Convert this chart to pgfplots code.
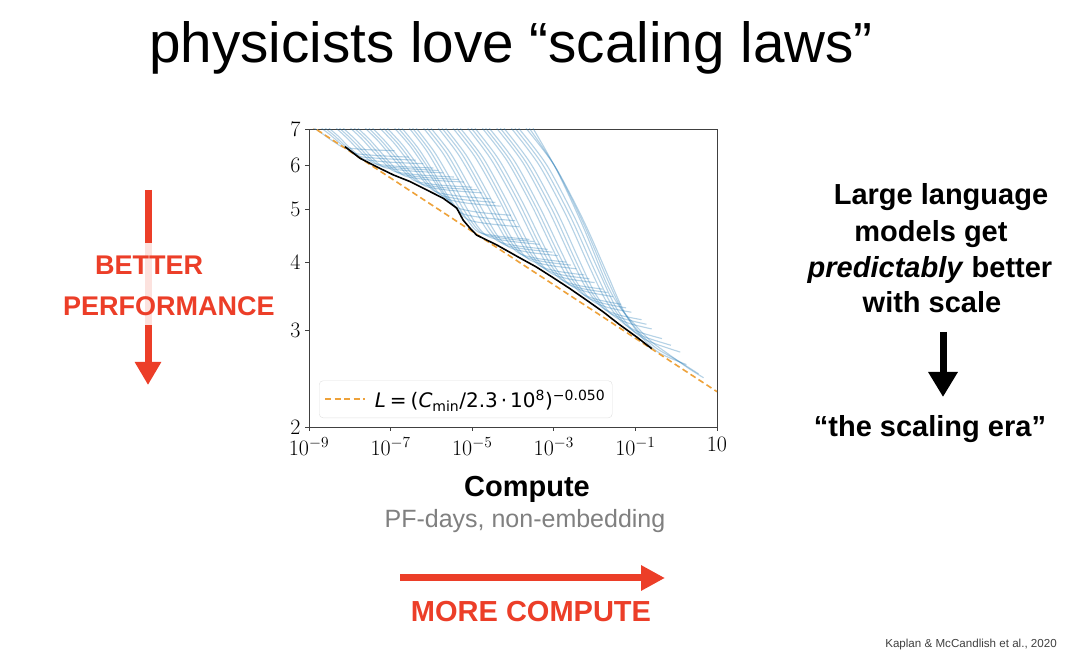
\RequirePackage{fix-cm}
\documentclass[border=0pt]{standalone}
\usepackage{fontspec}
\setmainfont{Liberation Sans}
\newfontfamily\dejavu{DejaVu Sans}
\usepackage{pgfplots}
\pgfplotsset{compat=1.18}
\usetikzlibrary{arrows.meta}

\definecolor{slidered}{RGB}{236,62,40}
\definecolor{c0}{RGB}{31,119,180}
\definecolor{fitorange}{RGB}{238,162,58}

% x values are log10(compute in PF-days)
\pgfplotsset{run/.style={c0, opacity=0.33, line width=1.1pt, smooth, tension=0.5, forget plot}}

\begin{document}
\begin{tikzpicture}
\path[use as bounding box] (0pt,0pt) rectangle (1080pt,654pt);
\fill[white] (0pt,0pt) rectangle (1080pt,654pt);

\begin{axis}[
  at={(309pt,227pt)}, anchor=south west,
  scale only axis, width=408pt, height=298pt,
  xmin=-9, xmax=1,
  ymode=log, ymin=2, ymax=7,
  xtick={-9,-7,-5,-3,-1,1},
  xticklabels={$10^{-9}$,$10^{-7}$,$10^{-5}$,$10^{-3}$,$10^{-1}$,$10$},
  ytick={2,3,4,5,6,7}, yticklabels={$2$,$3$,$4$,$5$,$6$,$7$},
  yminorticks=false,
  tick align=outside, tick pos=left,
  major tick length=4pt,
  tick style={black!75, line width=0.8pt},
  axis line style={black!75, line width=0.9pt},
  ticklabel style={font=\fontsize{22}{22}\selectfont},
  yticklabel style={xshift=-1pt},
  xticklabel style={yshift=-3pt},
  legend style={at={(0.0245,0.03)}, anchor=south west, draw=black!12,
    rounded corners=4pt, fill=white, inner xsep=5pt, inner ysep=7pt,
    font=\dejavu\fontsize{20}{20}\selectfont, cells={anchor=west}},
  legend image code/.code={\draw[#1] (0pt,0pt) -- (40pt,0pt); \path (47pt,0pt);},
]

% learning curves
\addplot[run] coordinates {(-8.87,7.02) (-8.68,6.87) (-8.49,6.71) (-8.33,6.59) (-8.22,6.51) (-8.10,6.47) (-7.62,6.42) (-6.90,6.39)};
\addplot[run] coordinates {(-8.69,7.02) (-8.48,6.83) (-8.27,6.62) (-8.10,6.46) (-7.98,6.37) (-7.85,6.31) (-7.33,6.26) (-6.55,6.22)};
\addplot[run] coordinates {(-8.60,7.02) (-8.38,6.81) (-8.17,6.58) (-7.99,6.40) (-7.86,6.30) (-7.73,6.23) (-7.19,6.18) (-6.38,6.14)};
\addplot[run] coordinates {(-8.51,7.02) (-8.28,6.79) (-8.06,6.53) (-7.87,6.34) (-7.74,6.22) (-7.60,6.15) (-7.04,6.09) (-6.20,6.05)};
\addplot[run] coordinates {(-8.33,7.02) (-8.09,6.76) (-7.84,6.47) (-7.64,6.25) (-7.50,6.12) (-7.35,6.04) (-6.79,5.98) (-5.95,5.94)};
\addplot[run] coordinates {(-8.25,7.02) (-8.00,6.75) (-7.74,6.45) (-7.53,6.21) (-7.38,6.07) (-7.23,5.99) (-6.67,5.93) (-5.83,5.88)};
\addplot[run] coordinates {(-8.16,7.02) (-7.90,6.74) (-7.63,6.42) (-7.42,6.17) (-7.26,6.02) (-7.10,5.94) (-6.54,5.87) (-5.70,5.82)};
\addplot[run] coordinates {(-7.98,7.02) (-7.70,6.71) (-7.42,6.36) (-7.19,6.10) (-7.02,5.93) (-6.85,5.84) (-6.29,5.77) (-5.45,5.72)};
\addplot[run] coordinates {(-7.89,7.02) (-7.60,6.70) (-7.31,6.33) (-7.08,6.06) (-6.90,5.88) (-6.73,5.79) (-6.17,5.71) (-5.33,5.66)};
\addplot[run] coordinates {(-7.80,7.02) (-7.50,6.68) (-7.20,6.30) (-6.96,6.01) (-6.78,5.83) (-6.60,5.73) (-6.04,5.65) (-5.20,5.60)};
\addplot[run] coordinates {(-7.62,7.02) (-7.30,6.65) (-6.99,6.24) (-6.73,5.92) (-6.54,5.72) (-6.35,5.61) (-5.81,5.53) (-5.00,5.48)};
\addplot[run] coordinates {(-7.53,7.02) (-7.21,6.64) (-6.88,6.21) (-6.62,5.87) (-6.42,5.67) (-6.23,5.55) (-5.69,5.47) (-4.88,5.42)};
\addplot[run] coordinates {(-7.44,7.02) (-7.11,6.62) (-6.77,6.17) (-6.50,5.82) (-6.30,5.61) (-6.10,5.49) (-5.56,5.41) (-4.75,5.35)};
\addplot[run] coordinates {(-7.26,7.02) (-6.91,6.59) (-6.56,6.10) (-6.27,5.72) (-6.06,5.49) (-5.85,5.36) (-5.33,5.28) (-4.55,5.22)};
\addplot[run] coordinates {(-7.17,7.02) (-6.81,6.57) (-6.45,6.06) (-6.16,5.66) (-5.94,5.42) (-5.73,5.29) (-5.21,5.20) (-4.43,5.14)};
\addplot[run] coordinates {(-7.08,7.02) (-6.71,6.55) (-6.34,6.02) (-6.04,5.60) (-5.82,5.35) (-5.60,5.21) (-5.08,5.12) (-4.30,5.06)};
\addplot[run] coordinates {(-6.90,7.02) (-6.51,6.50) (-6.13,5.91) (-5.82,5.46) (-5.58,5.18) (-5.35,5.02) (-4.83,4.93) (-4.05,4.87)};
\addplot[run] coordinates {(-6.81,7.02) (-6.42,6.48) (-6.02,5.85) (-5.71,5.37) (-5.46,5.08) (-5.23,4.90) (-4.72,4.82) (-3.95,4.76)};
\addplot[run] coordinates {(-6.72,7.02) (-6.32,6.45) (-5.91,5.78) (-5.59,5.27) (-5.34,4.98) (-5.10,4.78) (-4.60,4.70) (-3.85,4.64)};
\addplot[run] coordinates {(-6.54,7.02) (-6.12,6.39) (-5.70,5.65) (-5.36,5.08) (-5.10,4.76) (-4.85,4.54) (-4.35,4.46) (-3.60,4.40)};
\addplot[run] coordinates {(-6.46,7.02) (-6.03,6.38) (-5.60,5.63) (-5.25,5.05) (-4.99,4.71) (-4.73,4.50) (-4.23,4.42) (-3.48,4.36)};
\addplot[run] coordinates {(-6.37,7.02) (-5.93,6.36) (-5.49,5.60) (-5.13,5.01) (-4.87,4.65) (-4.60,4.45) (-4.10,4.37) (-3.35,4.31)};
\addplot[run] coordinates {(-6.19,7.02) (-5.73,6.34) (-5.27,5.55) (-4.90,4.94) (-4.63,4.57) (-4.35,4.36) (-3.87,4.28) (-3.15,4.22)};
\addplot[run] coordinates {(-6.10,7.02) (-5.63,6.33) (-5.17,5.52) (-4.79,4.90) (-4.51,4.53) (-4.23,4.31) (-3.75,4.23) (-3.03,4.17)};
\addplot[run] coordinates {(-6.01,7.02) (-5.53,6.32) (-5.06,5.49) (-4.67,4.86) (-4.39,4.48) (-4.10,4.26) (-3.62,4.17) (-2.90,4.11)};
\addplot[run] coordinates {(-5.83,7.02) (-5.34,6.29) (-4.84,5.43) (-4.44,4.78) (-4.15,4.38) (-3.85,4.15) (-3.39,4.06) (-2.70,4.00)};
\addplot[run] coordinates {(-5.74,7.02) (-5.24,6.28) (-4.74,5.40) (-4.33,4.74) (-4.03,4.33) (-3.73,4.10) (-3.27,4.01) (-2.58,3.95)};
\addplot[run] coordinates {(-5.65,7.02) (-5.14,6.26) (-4.63,5.37) (-4.22,4.69) (-3.91,4.28) (-3.60,4.04) (-3.14,3.95) (-2.45,3.89)};
\addplot[run] coordinates {(-5.47,7.02) (-4.94,6.24) (-4.41,5.32) (-3.99,4.61) (-3.67,4.18) (-3.35,3.94) (-2.91,3.85) (-2.25,3.79)};
\addplot[run] coordinates {(-5.38,7.02) (-4.84,6.23) (-4.31,5.29) (-3.88,4.57) (-3.55,4.13) (-3.23,3.89) (-2.79,3.79) (-2.13,3.73)};
\addplot[run] coordinates {(-5.29,7.02) (-4.74,6.21) (-4.20,5.26) (-3.76,4.53) (-3.43,4.08) (-3.10,3.83) (-2.66,3.73) (-2.00,3.67)};
\addplot[run] coordinates {(-5.11,7.02) (-4.55,6.18) (-3.98,5.20) (-3.53,4.45) (-3.19,3.99) (-2.85,3.73) (-2.43,3.63) (-1.80,3.57)};
\addplot[run] coordinates {(-5.02,7.02) (-4.45,6.17) (-3.88,5.18) (-3.42,4.41) (-3.07,3.95) (-2.73,3.68) (-2.31,3.58) (-1.68,3.52)};
\addplot[run] coordinates {(-4.93,7.02) (-4.35,6.16) (-3.77,5.15) (-3.30,4.37) (-2.95,3.90) (-2.60,3.63) (-2.18,3.53) (-1.55,3.46)};
\addplot[run] coordinates {(-4.75,7.02) (-4.15,6.13) (-3.55,5.09) (-3.07,4.29) (-2.71,3.80) (-2.35,3.52) (-1.95,3.42) (-1.35,3.35)};
\addplot[run] coordinates {(-4.67,7.02) (-4.06,6.12) (-3.45,5.06) (-2.96,4.25) (-2.59,3.76) (-2.23,3.47) (-1.83,3.37) (-1.23,3.30)};
\addplot[run] coordinates {(-4.58,7.02) (-3.96,6.11) (-3.34,5.03) (-2.84,4.21) (-2.47,3.71) (-2.10,3.42) (-1.70,3.31) (-1.10,3.24)};
\addplot[run] coordinates {(-4.40,7.02) (-3.76,6.08) (-3.13,4.98) (-2.62,4.13) (-2.23,3.61) (-1.85,3.32) (-1.45,3.21) (-0.85,3.14)};
\addplot[run] coordinates {(-4.31,7.02) (-3.67,6.07) (-3.02,4.95) (-2.51,4.09) (-2.12,3.57) (-1.73,3.27) (-1.33,3.16) (-0.73,3.08)};
\addplot[run] coordinates {(-4.22,7.02) (-3.57,6.06) (-2.91,4.92) (-2.39,4.05) (-2.00,3.52) (-1.60,3.22) (-1.20,3.10) (-0.60,3.02)};
\addplot[run] coordinates {(-4.04,7.02) (-3.37,6.03) (-2.70,4.87) (-2.16,3.97) (-1.75,3.43) (-1.35,3.12) (-0.95,2.99) (-0.35,2.90)};
\addplot[run] coordinates {(-3.95,7.02) (-3.27,6.02) (-2.59,4.84) (-2.05,3.94) (-1.63,3.39) (-1.23,3.07) (-0.82,2.93) (-0.13,2.82)};
\addplot[run] coordinates {(-3.86,7.02) (-3.17,6.01) (-2.48,4.81) (-1.93,3.90) (-1.51,3.34) (-1.10,3.02) (-0.68,2.87) (0.10,2.74)};
\addplot[run] coordinates {(-3.68,7.02) (-2.97,5.98) (-2.27,4.76) (-1.70,3.82) (-1.28,3.25) (-0.85,2.92) (-0.41,2.73) (0.25,2.60)};
\addplot[run] coordinates {(-3.60,7.02) (-2.95,5.94) (-2.27,4.70) (-1.70,3.74) (-1.33,3.28) (-0.91,2.98) (-0.50,2.79) (0.05,2.64) (0.55,2.50)};
\addplot[run] coordinates {(-3.51,7.02) (-2.93,5.89) (-2.28,4.64) (-1.71,3.66) (-1.38,3.31) (-0.97,3.05) (-0.60,2.86) (-0.20,2.72) (0.30,2.56) (0.67,2.46)};

% power-law fit
\addplot[fitorange, line width=1.6pt, dash pattern=on 6pt off 3.5pt] coordinates {(-9,7.13) (1,2.32)};
\addlegendentry{\textit{L}\hspace{0.2em}=\hspace{0.2em}(\textit{C}\textsubscript{min}/2.3\hspace{0.15em}·\hspace{0.15em}10\textsuperscript{8})\textsuperscript{−0.050}}

% compute-efficient frontier
\addplot[black, line width=1.6pt, forget plot] coordinates {
  (-8.12,6.50) (-7.75,6.19) (-7.34,5.97) (-6.93,5.77) (-6.52,5.61) (-6.12,5.42)
  (-5.71,5.23) (-5.38,5.02) (-5.22,4.77) (-5.05,4.61) (-4.89,4.48) (-4.40,4.30)
  (-3.83,4.07) (-3.43,3.92) (-3.00,3.74) (-2.61,3.58) (-2.20,3.41) (-1.79,3.245)
  (-1.40,3.08) (-0.97,2.92) (-0.60,2.78)};
\end{axis}

% slide text
\node[anchor=base, font=\fontsize{56.6}{60}\selectfont] at (511pt,591pt) {physicists love “scaling laws”};

\node[anchor=base, font=\bfseries\fontsize{29}{29}\selectfont] at (527pt,157pt) {Compute};
\node[anchor=base, text=black!50, font=\fontsize{25}{25}\selectfont] at (525pt,126pt) {PF-days, non-embedding};

\draw[slidered, line width=7pt, -{Triangle[width=25pt,length=23pt]}] (148pt,464pt) -- (148pt,269pt);
\fill[white, opacity=0.85] (140pt,329pt) rectangle (156pt,411pt);
\node[anchor=base west, inner sep=0pt, text=slidered, font=\bfseries\fontsize{27}{27}\selectfont] at (95pt,379pt) {BETTER};
\node[anchor=base west, inner sep=0pt, text=slidered, font=\bfseries\fontsize{27}{27}\selectfont] at (63pt,338pt) {PERFORMANCE};

\draw[slidered, line width=7pt, -{Triangle[width=24pt,length=24pt]}] (400pt,76pt) -- (665pt,76pt);
\node[anchor=base, text=slidered, font=\bfseries\fontsize{29}{29}\selectfont] at (531pt,32pt) {MORE COMPUTE};

\node[anchor=base, font=\bfseries\fontsize{29}{29}\selectfont] at (941pt,449pt) {Large language};
\node[anchor=base, font=\bfseries\fontsize{29}{29}\selectfont] at (931pt,412pt) {models get};
\node[anchor=base, font=\bfseries\fontsize{29}{29}\selectfont] at (930pt,376pt) {\textit{predictably} better};
\node[anchor=base, font=\bfseries\fontsize{29}{29}\selectfont] at (932pt,341pt) {with scale};
\draw[black, line width=7pt, -{Triangle[width=28pt,length=25pt]}] (943pt,322pt) -- (943pt,257pt);
\node[anchor=base, font=\bfseries\fontsize{29}{29}\selectfont] at (930pt,217pt) {“the scaling era”};

\node[anchor=base east, inner sep=0pt, text=black!75, font=\fontsize{11.6}{12}\selectfont] at (1057pt,7pt) {Kaplan \& McCandlish et al., 2020};
\end{tikzpicture}
\end{document}
